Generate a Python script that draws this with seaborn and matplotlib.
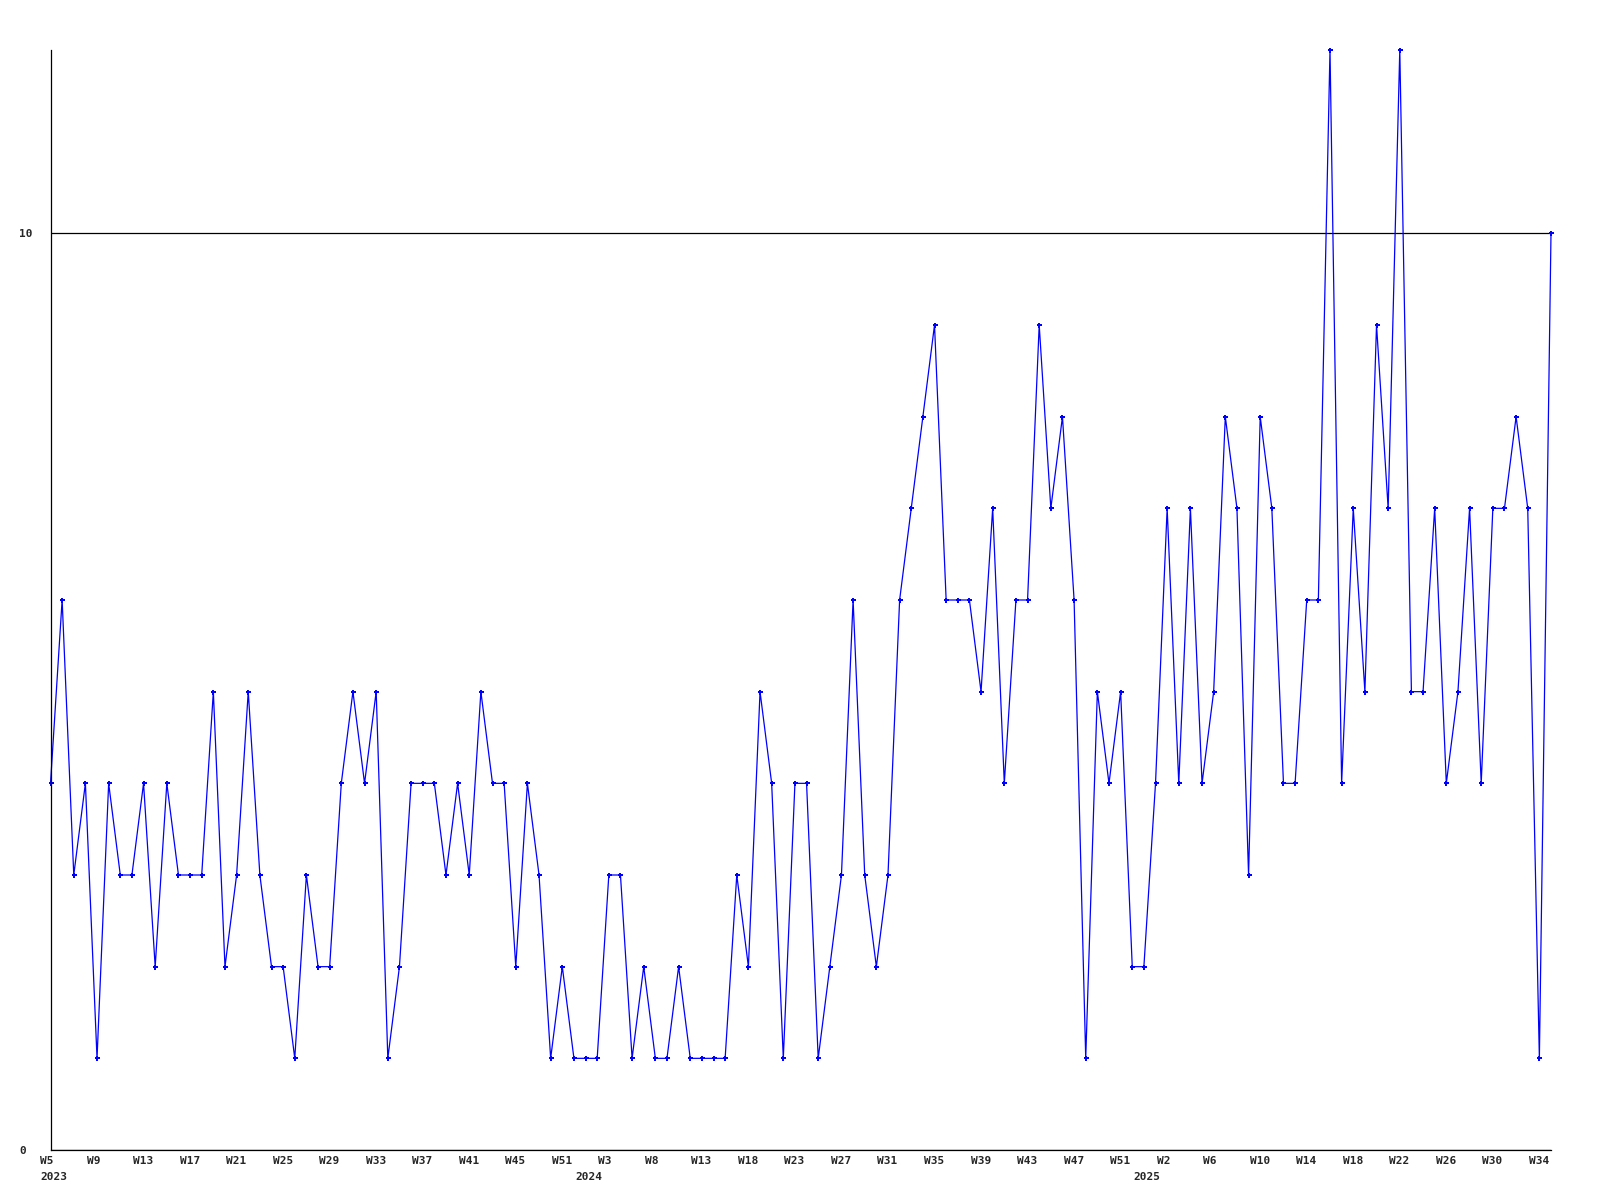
import matplotlib
matplotlib.use('Agg')
import matplotlib.pyplot as plt
import matplotlib.transforms as mtransforms
import seaborn as sns
import pandas as pd

# weekly counts, one value per point (W5 2023 .. W34 2025)
values = [
    4, 6, 3, 4, 1, 4, 3, 3, 4, 2,
    4, 3, 3, 3, 5, 2, 3, 5, 3, 2,
    2, 1, 3, 2, 2, 4, 5, 4, 5, 1,
    2, 4, 4, 4, 3, 4, 3, 5, 4, 4,
    2, 4, 3, 1, 2, 1, 1, 1, 3, 3,
    1, 2, 1, 1, 2, 1, 1, 1, 1, 3,
    2, 5, 4, 1, 4, 4, 1, 2, 3, 6,
    3, 2, 3, 6, 7, 8, 9, 6, 6, 6,
    5, 7, 4, 6, 6, 9, 7, 8, 6, 1,
    5, 4, 5, 2, 2, 4, 7, 4, 7, 4,
    5, 8, 7, 3, 8, 7, 4, 4, 6, 6,
    12, 4, 7, 5, 9, 7, 12, 5, 5, 7,
    4, 5, 7, 4, 7, 7, 8, 7, 1, 10,
]

# labels shown every 4th point
week_labels = ['W5', 'W9', 'W13', 'W17', 'W21', 'W25', 'W29', 'W33', 'W37', 'W41',
               'W45', 'W51', 'W3', 'W8', 'W13', 'W18', 'W23', 'W27', 'W31', 'W35',
               'W39', 'W43', 'W47', 'W51', 'W2', 'W6', 'W10', 'W14', 'W18', 'W22',
               'W26', 'W30', 'W34']
label_step = 4

# year labels and the point where each year starts
years = ['2023', '2024', '2025']
year_start = [0, 46, 94]

df = pd.DataFrame({'idx': range(len(values)), 'valore': values})

sns.set_style('white')
plt.rcParams['font.family'] = ['DejaVu Sans Mono']

fig = plt.figure(figsize=(16, 12), dpi=100)
ax = fig.add_axes([50.5 / 1600, 50 / 1200, 1500.5 / 1600, 1100 / 1200])

sns.lineplot(data=df, x='idx', y='valore', ax=ax, color='#0000ff', linewidth=0.9,
             marker='P', markersize=3.6, markeredgewidth=0, markerfacecolor='#0000ff')
for line in ax.lines:
    line.set_clip_on(False)

ax.set_xlim(0, len(values) - 1)
ax.set_ylim(0, 12)
ax.set_xlabel('')
ax.set_ylabel('')

# spines: only left and bottom
for side in ['top', 'right']:
    ax.spines[side].set_visible(False)
for side in ['left', 'bottom']:
    ax.spines[side].set_color('black')
    ax.spines[side].set_linewidth(0.9)

# y ticks 0 and 10, line at 10
ax.set_yticks([0, 10])
ax.set_yticklabels(['0', '10'], fontsize=8, fontweight='bold')
ax.yaxis.grid(True, color='black', linewidth=0.9)
ax.tick_params(axis='y', length=0, pad=22.7)
for lab in ax.get_yticklabels():
    lab.set_ha('left')

# x ticks, left aligned a bit before the point
ax.set_xticks([i * label_step for i in range(len(week_labels))])
ax.set_xticklabels(week_labels, fontsize=8, fontweight='bold')
ax.tick_params(axis='x', length=0, pad=4)
offset = mtransforms.ScaledTranslation(-10.5 / 100, 0, fig.dpi_scale_trans)
for lab in ax.get_xticklabels():
    lab.set_ha('left')
    lab.set_transform(lab.get_transform() + offset)

# year labels under the first week of each year
for anno, pos in zip(years, year_start):
    ax.annotate(anno, xy=(pos, 0), xycoords=('data', 'axes fraction'),
                xytext=(-10.5 * 0.72, -27 * 0.72), textcoords='offset points',
                ha='left', va='center', fontsize=8, fontweight='bold')

fig.savefig('out.png', dpi=100, facecolor='white')
